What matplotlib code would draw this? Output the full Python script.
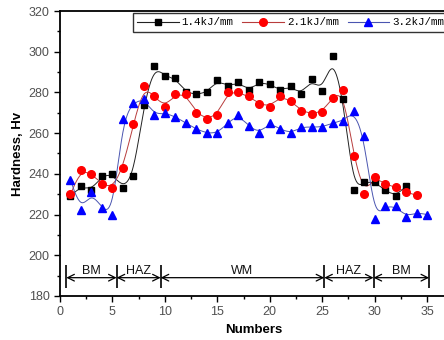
import numpy as np
import matplotlib.pyplot as plt
from matplotlib.lines import Line2D

plt.rcParams['font.family'] = ['Liberation Sans', 'DejaVu Sans']

# hardness readings along the weld, one list per heat input
numbers_14 = list(range(1, 34))
hv_14 = [229, 234, 232, 239, 240, 233, 239, 274, 293, 288, 287, 280, 279, 280,
         286, 283, 285, 281, 285, 284, 281, 283, 279, 286.5, 280.5, 298, 277,
         232, 236, 236, 232, 229, 234]

numbers_21 = list(range(1, 35))
hv_21 = [230, 242, 240, 235, 233, 243, 264.5, 283, 278, 273, 279, 279, 270, 267,
         269, 280, 280, 278, 274.5, 273, 278, 276, 271, 269.5, 270.5, 277.5, 281,
         249, 230, 238.5, 235, 233.5, 231, 229.5]

numbers_32 = list(range(1, 36))
hv_32 = [237, 222, 231, 223, 220, 267, 275, 277, 269, 270, 268, 265, 262, 260,
         260, 265, 269, 263.5, 260, 265, 262, 260, 263, 263, 263, 265, 266,
         271, 258.5, 218, 224, 224, 219, 221, 220]

series_labels = ['1.4kJ/mm', '2.1kJ/mm', '3.2kJ/mm']

zone_names = ['BM', 'HAZ', 'WM', 'HAZ', 'BM']
zone_edges = [0.6, 5.4, 9.6, 25.2, 29.9, 35.2]


def bspline(xs, ys, n=20):
    # uniform cubic B-spline with the points as control points (ends clamped)
    px = np.r_[[xs[0]] * 2, xs, [xs[-1]] * 2].astype(float)
    py = np.r_[[ys[0]] * 2, ys, [ys[-1]] * 2].astype(float)
    t = np.linspace(0, 1, n, endpoint=False)
    b0 = (1 - t) ** 3 / 6
    b1 = (3 * t ** 3 - 6 * t ** 2 + 4) / 6
    b2 = (-3 * t ** 3 + 3 * t ** 2 + 3 * t + 1) / 6
    b3 = t ** 3 / 6
    cx, cy = [], []
    for i in range(len(px) - 3):
        cx.append(b0 * px[i] + b1 * px[i + 1] + b2 * px[i + 2] + b3 * px[i + 3])
        cy.append(b0 * py[i] + b1 * py[i + 1] + b2 * py[i + 2] + b3 * py[i + 3])
    return np.r_[np.concatenate(cx), xs[-1]], np.r_[np.concatenate(cy), ys[-1]]


fig = plt.figure(figsize=(4.44, 3.40), dpi=100)
ax = fig.add_axes([60 / 444, 44 / 340, 388 / 444, 285 / 340])

styles = [
    dict(line='#222222', face='black', marker='s', ms=4.5),
    dict(line='#b83c3c', face='red', marker='o', ms=5.5),
    dict(line='#4a55b0', face='blue', marker='^', ms=5.8),
]
data = [(numbers_14, hv_14), (numbers_21, hv_21), (numbers_32, hv_32)]

handles = []
for (xs, ys), st in zip(data, styles):
    sx, sy = bspline(xs, ys)
    ax.plot(sx, sy, color=st['line'], lw=0.7, zorder=2)
    ax.plot(xs, ys, ls='none', marker=st['marker'], ms=st['ms'],
            color=st['face'], mec=st['face'], zorder=3)
    handles.append(Line2D([], [], color=st['line'], lw=0.8, marker=st['marker'],
                          ms=st['ms'], mfc=st['face'], mec=st['face']))

# zone markers along the bottom
ax.vlines(zone_edges, 184, 195, color='black', lw=1.2)
for name, x0, x1 in zip(zone_names, zone_edges[:-1], zone_edges[1:]):
    ax.annotate('', xy=(x1, 189), xytext=(x0, 189),
                arrowprops=dict(arrowstyle='<->', lw=0.9, color='black',
                                shrinkA=0, shrinkB=0, mutation_scale=12))
    ax.text((x0 + x1) / 2, 190.6, name, ha='center', va='baseline',
            fontsize=9, color='#111111')

ax.set_xlim(0, 37)
ax.set_ylim(180, 320)
ax.set_xticks(range(0, 40, 5))
ax.set_xticks(np.arange(0, 37, 2.5), minor=True)
ax.set_yticks(range(180, 321, 20))
ax.set_yticks(range(180, 321, 10), minor=True)
ax.tick_params(which='major', direction='out', length=4, width=1,
               labelsize=9, labelcolor='#505050')
ax.tick_params(which='minor', direction='out', length=2.5, width=1)
ax.tick_params(top=False, right=False, which='both')
for sp in ax.spines.values():
    sp.set_linewidth(1.3)

ax.set_xlabel('Numbers', fontsize=9.5, fontweight='bold')
ax.set_ylabel('Hardness, Hv', fontsize=9.5, fontweight='bold')
ax.yaxis.set_label_coords(-0.092, 0.5)

leg = ax.legend(handles, series_labels, loc='upper left',
                bbox_to_anchor=(133 / 444, 1 - 13 / 340),
                bbox_transform=fig.transFigure, ncol=3, fancybox=False,
                edgecolor='black', borderaxespad=0, handlelength=3.8,
                handletextpad=0.3, columnspacing=0.8, borderpad=0.4,
                prop={'family': 'Liberation Mono', 'size': 7.8})
leg.get_frame().set_linewidth(1.0)

fig.savefig('out.png', dpi=100)
